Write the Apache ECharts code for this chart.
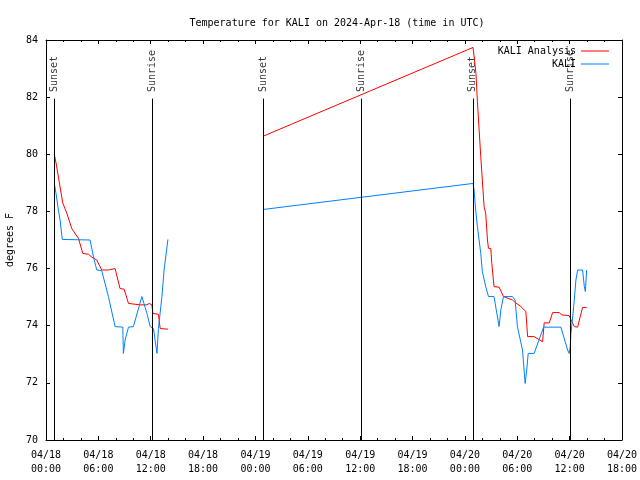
<!DOCTYPE html>
<html>
<head>
<meta charset="utf-8">
<script src="https://cdn.jsdelivr.net/npm/echarts@6/dist/echarts.min.js"></script>
<style>html,body{margin:0;padding:0;background:#fff}#c{width:640px;height:480px}</style>
</head>
<body>
<div id="c"></div>
<script>
// Time stamps "MM/DD HH:MM" (UTC); null marks a gap in the record
const analysisTimes = ["04/18 00:57","04/18 01:09","04/18 01:32","04/18 01:55","04/18 02:23","04/18 02:57","04/18 03:43","04/18 04:13","04/18 04:52","04/18 05:15","04/18 05:49","04/18 06:23","04/18 07:09","04/18 07:55","04/18 08:07","04/18 08:29","04/18 08:57","04/18 09:27","04/18 10:47","04/18 11:34","04/18 11:49","04/18 12:08","04/18 12:15","04/18 12:53","04/18 13:05","04/18 13:58",null,
  "04/19 00:56","04/20 00:56","04/20 01:16","04/20 01:26","04/20 01:49","04/20 02:12","04/20 02:23","04/20 02:35","04/20 02:42","04/20 02:58","04/20 03:05","04/20 03:20","04/20 03:55","04/20 04:25","04/20 05:27","04/20 05:50","04/20 06:25","04/20 06:59","04/20 07:11","04/20 07:56","04/20 08:54","04/20 09:05","04/20 09:40","04/20 10:03","04/20 10:48","04/20 11:05","04/20 11:57","04/20 12:08","04/20 12:32","04/20 12:55","04/20 13:13","04/20 13:29","04/20 13:57"];
const analysisTemps = [80.0,79.7,79.0,78.3,77.94,77.4,77.06,76.53,76.5,76.4,76.3,75.95,75.95,76.0,75.95,75.3,75.28,74.78,74.73,74.73,74.78,74.73,74.43,74.4,73.9,73.88,null,
  80.64,83.74,82.83,81.84,79.92,78.17,77.93,77.0,76.71,76.7,76.18,75.37,75.35,75.02,74.9,74.8,74.67,74.5,73.62,73.62,73.44,74.1,74.1,74.46,74.46,74.38,74.35,74.22,73.97,73.95,74.32,74.64,74.64];

const obsTimes = ["04/18 00:57","04/18 01:09","04/18 01:25","04/18 01:37","04/18 01:52","04/18 05:03","04/18 05:26","04/18 05:49","04/18 06:23","04/18 07:09","04/18 07:55","04/18 08:48","04/18 08:52","04/18 09:04","04/18 09:27","04/18 10:01","04/18 10:59","04/18 11:34","04/18 11:56","04/18 12:19","04/18 12:43","04/18 12:53","04/18 13:17","04/18 13:32","04/18 13:58",null,
  "04/19 00:56","04/20 00:56","04/20 01:03","04/20 01:14","04/20 01:26","04/20 01:49","04/20 02:00","04/20 02:23","04/20 02:42","04/20 03:20","04/20 03:55","04/20 04:07","04/20 04:25","04/20 05:27","04/20 05:45","04/20 06:01","04/20 06:36","04/20 06:54","04/20 07:05","04/20 07:15","04/20 07:56","04/20 09:01","04/20 11:00","04/20 11:46","04/20 11:57","04/20 12:04","04/20 12:09","04/20 12:28","04/20 12:43","04/20 12:55","04/20 13:29","04/20 13:41","04/20 13:48","04/20 13:57"];
const obsTemps = [78.98,78.63,78.05,77.7,77.02,77.0,76.42,75.95,75.93,75.02,73.97,73.95,73.03,73.5,73.95,73.97,75.02,74.43,73.97,73.9,73.03,73.9,75.02,75.95,77.02,null,
  78.07,78.98,78.75,78.05,77.47,76.53,75.89,75.37,75.02,75.02,73.97,74.55,75.02,75.02,74.9,73.97,73.15,71.98,72.45,73.03,73.03,73.95,73.95,73.15,73.03,73.27,73.73,74.67,75.6,75.95,75.95,75.37,75.2,75.95];

const sunTimes = ["04/18 00:57","04/18 12:11","04/19 00:55","04/19 12:10","04/20 00:54","04/20 12:04"];
const sunLabels = ["Sunset","Sunrise","Sunset","Sunrise","Sunset","Sunrise"];

const BASE_DAY = 18;
function toHours(s){
  if (s === null) return null;
  const d = parseInt(s.slice(3,5),10), hh = parseInt(s.slice(6,8),10), mm = parseInt(s.slice(9,11),10);
  return (d-BASE_DAY)*24 + hh + mm/60;
}
function pairs(ts, vs){
  return ts.map((t,i)=> t===null ? [null,null] : [toHours(t), vs[i]]);
}
function fmtX(h){
  const d = BASE_DAY + Math.floor(h/24);
  const hh = Math.round(h % 24);
  return '04/' + String(d).padStart(2,'0') + '\n' + String(hh).padStart(2,'0') + ':00';
}

const FONT = 'DejaVu Sans Mono';
const chart = echarts.init(document.getElementById('c'));
const xCommon = {
  type:'value', min:0, max:66, interval:6,
  axisLine:{show:true, onZero:false, lineStyle:{color:'#000', width:1}},
  axisTick:{show:true, inside:true, length:4, lineStyle:{color:'#000'}},
  minorTick:{show:true, splitNumber:3, length:2, lineStyle:{color:'#000'}},
  splitLine:{show:false}
};
const yCommon = {
  type:'value', min:70, max:84, interval:2,
  axisLine:{show:true, onZero:false, lineStyle:{color:'#000', width:1}},
  axisTick:{show:true, inside:true, length:4, lineStyle:{color:'#000'}},
  splitLine:{show:false}
};

const sunData = sunTimes.map((t,i)=>({value:[toHours(t), 82.18], name:sunLabels[i]}));

chart.setOption({
  animation:false,
  backgroundColor:'#fff',
  title:{text:'Temperature for KALI on 2024-Apr-18 (time in UTC)', left:332, top:13, textAlign:'center',
    textStyle:{fontFamily:FONT, fontSize:10, fontWeight:'normal', color:'#000'}},
  legend:{
    orient:'vertical', right:26, top:41, align:'right', itemGap:3, itemWidth:28, itemHeight:1,
    textStyle:{fontFamily:FONT, fontSize:10, color:'#000'},
    data:[{name:'KALI Analysis', icon:'rect'},{name:'KALI', icon:'rect'}]
  },
  grid:{left:46, right:18, top:40, bottom:40, outerBoundsMode:'none', containLabel:false},
  xAxis:[
    Object.assign({}, xCommon, {position:'bottom',
      axisLabel:{formatter:fmtX, fontFamily:FONT, fontSize:10, color:'#000', margin:8, lineHeight:14}}),
    Object.assign({}, xCommon, {position:'top', axisLabel:{show:false}})
  ],
  yAxis:[
    Object.assign({}, yCommon, {position:'left', name:'degrees F', nameLocation:'middle', nameGap:31,
      nameTextStyle:{fontFamily:FONT, fontSize:10, color:'#000'},
      axisLabel:{fontFamily:FONT, fontSize:10, color:'#000', margin:8}}),
    Object.assign({}, yCommon, {position:'right', axisLabel:{show:false}})
  ],
  series:[
    {
      name:'sun', type:'scatter', data:sunData, symbolSize:0, silent:true, z:1,
      label:{show:true, formatter:p=>p.name, position:'inside', rotate:90, align:'left', verticalAlign:'middle',
        fontFamily:FONT, fontSize:10, color:'#000'},
      markLine:{silent:true, symbol:['none','none'], label:{show:false},
        lineStyle:{color:'#000', width:1, type:'solid'},
        data: sunTimes.map(t=>[{coord:[toHours(t),70]},{coord:[toHours(t),81.95]}])}
    },
    {name:'KALI Analysis', type:'line', data:pairs(analysisTimes, analysisTemps), symbol:'none', connectNulls:false,
      lineStyle:{color:'#ff0000', width:1}, itemStyle:{color:'#ff0000'}, z:3},
    {name:'KALI', type:'line', data:pairs(obsTimes, obsTemps), symbol:'none', connectNulls:false,
      lineStyle:{color:'#0080ff', width:1}, itemStyle:{color:'#0080ff'}, z:4}
  ]
});
</script>
</body>
</html>
